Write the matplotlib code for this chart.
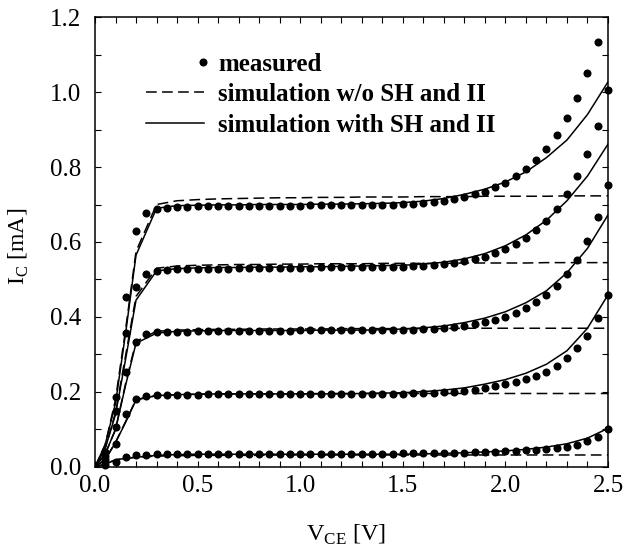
import numpy as np
import matplotlib
matplotlib.use('Agg')
import matplotlib.pyplot as plt
from matplotlib.lines import Line2D
from matplotlib.ticker import MultipleLocator, FormatStrFormatter

plt.rcParams['font.family'] = 'Liberation Serif'
plt.rcParams['mathtext.fontset'] = 'custom'
plt.rcParams['mathtext.rm'] = 'Liberation Serif'

# measured points, V_CE = 0.05 ... 2.50 in 0.05 steps
v_meas = np.round(np.arange(1, 51) * 0.05, 2)
meas1 = [0.005, 0.014, 0.026, 0.031, 0.033, 0.034, 0.034, 0.034, 0.034, 0.034,
         0.034, 0.034, 0.034, 0.034, 0.034, 0.034, 0.034, 0.035, 0.035, 0.035,
         0.035, 0.035, 0.035, 0.035, 0.035, 0.035, 0.035, 0.035, 0.035, 0.036,
         0.036, 0.036, 0.036, 0.037, 0.037, 0.038, 0.039, 0.040, 0.041, 0.042,
         0.043, 0.045, 0.046, 0.048, 0.050, 0.054, 0.059, 0.068, 0.081, 0.102]
meas2 = [0.012, 0.061, 0.141, 0.181, 0.190, 0.192, 0.193, 0.193, 0.193, 0.193,
         0.194, 0.194, 0.194, 0.194, 0.194, 0.194, 0.194, 0.194, 0.194, 0.194,
         0.194, 0.194, 0.195, 0.195, 0.195, 0.195, 0.195, 0.195, 0.195, 0.195,
         0.196, 0.197, 0.198, 0.199, 0.201, 0.203, 0.206, 0.210, 0.217, 0.221,
         0.227, 0.235, 0.243, 0.254, 0.270, 0.290, 0.316, 0.349, 0.398, 0.459]
meas3 = [0.020, 0.106, 0.254, 0.334, 0.354, 0.359, 0.360, 0.361, 0.361, 0.362,
         0.362, 0.362, 0.362, 0.363, 0.363, 0.363, 0.363, 0.363, 0.363, 0.364,
         0.364, 0.364, 0.364, 0.364, 0.364, 0.365, 0.365, 0.365, 0.365, 0.365,
         0.366, 0.367, 0.369, 0.371, 0.374, 0.377, 0.381, 0.386, 0.392, 0.401,
         0.411, 0.423, 0.439, 0.459, 0.483, 0.515, 0.552, 0.603, 0.667, 0.752]
meas4 = [0.030, 0.150, 0.357, 0.481, 0.514, 0.522, 0.525, 0.527, 0.528, 0.528,
         0.529, 0.529, 0.529, 0.530, 0.530, 0.530, 0.530, 0.531, 0.531, 0.531,
         0.531, 0.532, 0.532, 0.532, 0.533, 0.533, 0.533, 0.534, 0.534, 0.534,
         0.535, 0.537, 0.539, 0.542, 0.545, 0.549, 0.555, 0.561, 0.571, 0.581,
         0.594, 0.611, 0.632, 0.657, 0.688, 0.728, 0.776, 0.835, 0.910, 1.005]
meas5 = [0.040, 0.187, 0.454, 0.630, 0.678, 0.687, 0.691, 0.693, 0.694, 0.695,
         0.695, 0.695, 0.696, 0.696, 0.696, 0.697, 0.697, 0.697, 0.697, 0.697,
         0.698, 0.698, 0.698, 0.698, 0.699, 0.699, 0.699, 0.700, 0.700, 0.701,
         0.702, 0.704, 0.707, 0.710, 0.715, 0.720, 0.728, 0.734, 0.746, 0.757,
         0.776, 0.795, 0.819, 0.849, 0.886, 0.930, 0.985, 1.052, 1.134, np.nan]

# simulation grid
v_sim = [0.0, 0.05, 0.1, 0.15, 0.2, 0.3, 0.4, 0.5, 0.6, 0.7, 0.8, 0.9, 1.0, 1.1,
         1.2, 1.3, 1.4, 1.5, 1.6, 1.7, 1.8, 1.9, 2.0, 2.1, 2.2, 2.3, 2.4, 2.5]

# simulation with SH and II
sh1 = [0, 0.008, 0.019, 0.023, 0.026, 0.031, 0.033, 0.034, 0.034, 0.034, 0.034, 0.034, 0.034, 0.034,
       0.034, 0.034, 0.034, 0.034, 0.035, 0.036, 0.038, 0.040, 0.043, 0.047, 0.053, 0.062, 0.077, 0.103]
sh2 = [0, 0.02, 0.065, 0.12, 0.179, 0.190, 0.193, 0.194, 0.195, 0.195, 0.195, 0.195, 0.195, 0.195,
       0.195, 0.196, 0.197, 0.198, 0.201, 0.205, 0.211, 0.221, 0.233, 0.250, 0.274, 0.310, 0.370, 0.459]
sh3 = [0, 0.035, 0.10, 0.22, 0.33, 0.357, 0.362, 0.363, 0.364, 0.364, 0.364, 0.364, 0.364, 0.365,
       0.365, 0.365, 0.366, 0.368, 0.371, 0.376, 0.385, 0.397, 0.414, 0.438, 0.470, 0.518, 0.583, 0.672]
sh4 = [0, 0.05, 0.14, 0.29, 0.445, 0.523, 0.529, 0.531, 0.532, 0.532, 0.533, 0.533, 0.534, 0.534,
       0.535, 0.536, 0.537, 0.538, 0.541, 0.546, 0.555, 0.569, 0.590, 0.619, 0.658, 0.710, 0.776, 0.861]
sh5 = [0, 0.06, 0.17, 0.36, 0.565, 0.690, 0.697, 0.698, 0.699, 0.699, 0.700, 0.700, 0.700, 0.701,
       0.701, 0.702, 0.703, 0.705, 0.709, 0.716, 0.727, 0.741, 0.760, 0.787, 0.825, 0.872, 0.940, 1.027]

# simulation w/o SH and II
nosh1 = [0, 0.008, 0.019, 0.023, 0.026, 0.029, 0.030, 0.031, 0.031, 0.031, 0.031, 0.032, 0.032, 0.032,
         0.032, 0.032, 0.032, 0.032, 0.032, 0.032, 0.032, 0.032, 0.032, 0.032, 0.032, 0.032, 0.032, 0.032]
nosh2 = [0, 0.02, 0.066, 0.122, 0.180, 0.191, 0.193, 0.194, 0.195, 0.195, 0.195, 0.195, 0.195, 0.196,
         0.196, 0.196, 0.196, 0.196, 0.196, 0.196, 0.196, 0.196, 0.196, 0.196, 0.196, 0.196, 0.196, 0.196]
nosh3 = [0, 0.035, 0.10, 0.225, 0.335, 0.362, 0.365, 0.366, 0.367, 0.367, 0.368, 0.368, 0.368, 0.368,
         0.369, 0.369, 0.369, 0.369, 0.369, 0.369, 0.370, 0.370, 0.370, 0.370, 0.370, 0.370, 0.370, 0.370]
nosh4 = [0, 0.05, 0.145, 0.30, 0.455, 0.530, 0.536, 0.538, 0.539, 0.540, 0.540, 0.541, 0.541, 0.542,
         0.542, 0.542, 0.543, 0.543, 0.543, 0.543, 0.544, 0.544, 0.544, 0.544, 0.545, 0.545, 0.545, 0.545]
nosh5 = [0, 0.06, 0.18, 0.37, 0.575, 0.700, 0.710, 0.713, 0.715, 0.716, 0.717, 0.718, 0.718, 0.719,
         0.719, 0.720, 0.720, 0.720, 0.721, 0.721, 0.721, 0.722, 0.722, 0.722, 0.722, 0.723, 0.723, 0.723]

meas = [meas1, meas2, meas3, meas4, meas5]
sims_sh = [sh1, sh2, sh3, sh4, sh5]
sims_nosh = [nosh1, nosh2, nosh3, nosh4, nosh5]


class RightDot:
    # legend entry: a single dot at the right end of the handle area
    def legend_artist(self, legend, orig_handle, fontsize, handlebox):
        x = -handlebox.xdescent + handlebox.width - 1
        y = (handlebox.height - handlebox.ydescent) / 2
        dot = Line2D([x], [y], ls='None', marker='o', c='k', ms=5.8, mew=0)
        handlebox.add_artist(dot)
        return dot


fig = plt.figure(figsize=(6.27, 5.49), dpi=100)
ax = fig.add_axes([0.1515, 0.1494, 0.8182, 0.8196])

dash = (7, 3.5)
for k in range(5):
    l_nosh, = ax.plot(v_sim, sims_nosh[k], c='k', lw=1.1, dashes=dash, zorder=2)
    l_sh, = ax.plot(v_sim, sims_sh[k], c='k', lw=1.1, zorder=2)
    l_meas, = ax.plot(v_meas, meas[k], 'o', c='k', ms=5.8, mew=0, zorder=3, clip_on=False)

ax.set_xlim(0, 2.5)
ax.set_ylim(0, 1.2)
ax.xaxis.set_major_locator(MultipleLocator(0.5))
ax.xaxis.set_minor_locator(MultipleLocator(0.1))
ax.yaxis.set_major_locator(MultipleLocator(0.2))
ax.yaxis.set_minor_locator(MultipleLocator(0.1))
ax.xaxis.set_major_formatter(FormatStrFormatter('%.1f'))
ax.yaxis.set_major_formatter(FormatStrFormatter('%.1f'))
ax.tick_params(which='both', direction='in', top=True, right=True, length=4, width=0.8)
ax.tick_params(axis='x', which='major', labelsize=18, pad=6)
ax.tick_params(axis='y', which='major', labelsize=18, pad=10)
for s in ax.spines.values():
    s.set_linewidth(1.1)

ax.set_xlabel(r'V$_{\mathrm{CE}}$ [V]', fontsize=17.5)
ax.set_ylabel(r'I$_{\mathrm{C}}$ [mA]', fontsize=17)
ax.xaxis.set_label_coords(0.49, -0.125)
ax.yaxis.set_label_coords(-0.124, 0.49)

leg = ax.legend([l_meas, l_nosh, l_sh],
                ['measured', 'simulation w/o SH and II', 'simulation with SH and II'],
                handler_map={l_meas: RightDot()},
                loc='upper left', bbox_to_anchor=(0.0994, 0.921),
                frameon=False, borderpad=0, borderaxespad=0,
                handlelength=2.32, handletextpad=0.56, labelspacing=0.3,
                prop={'weight': 'bold', 'size': 18})

fig.savefig('out.png', dpi=100)
